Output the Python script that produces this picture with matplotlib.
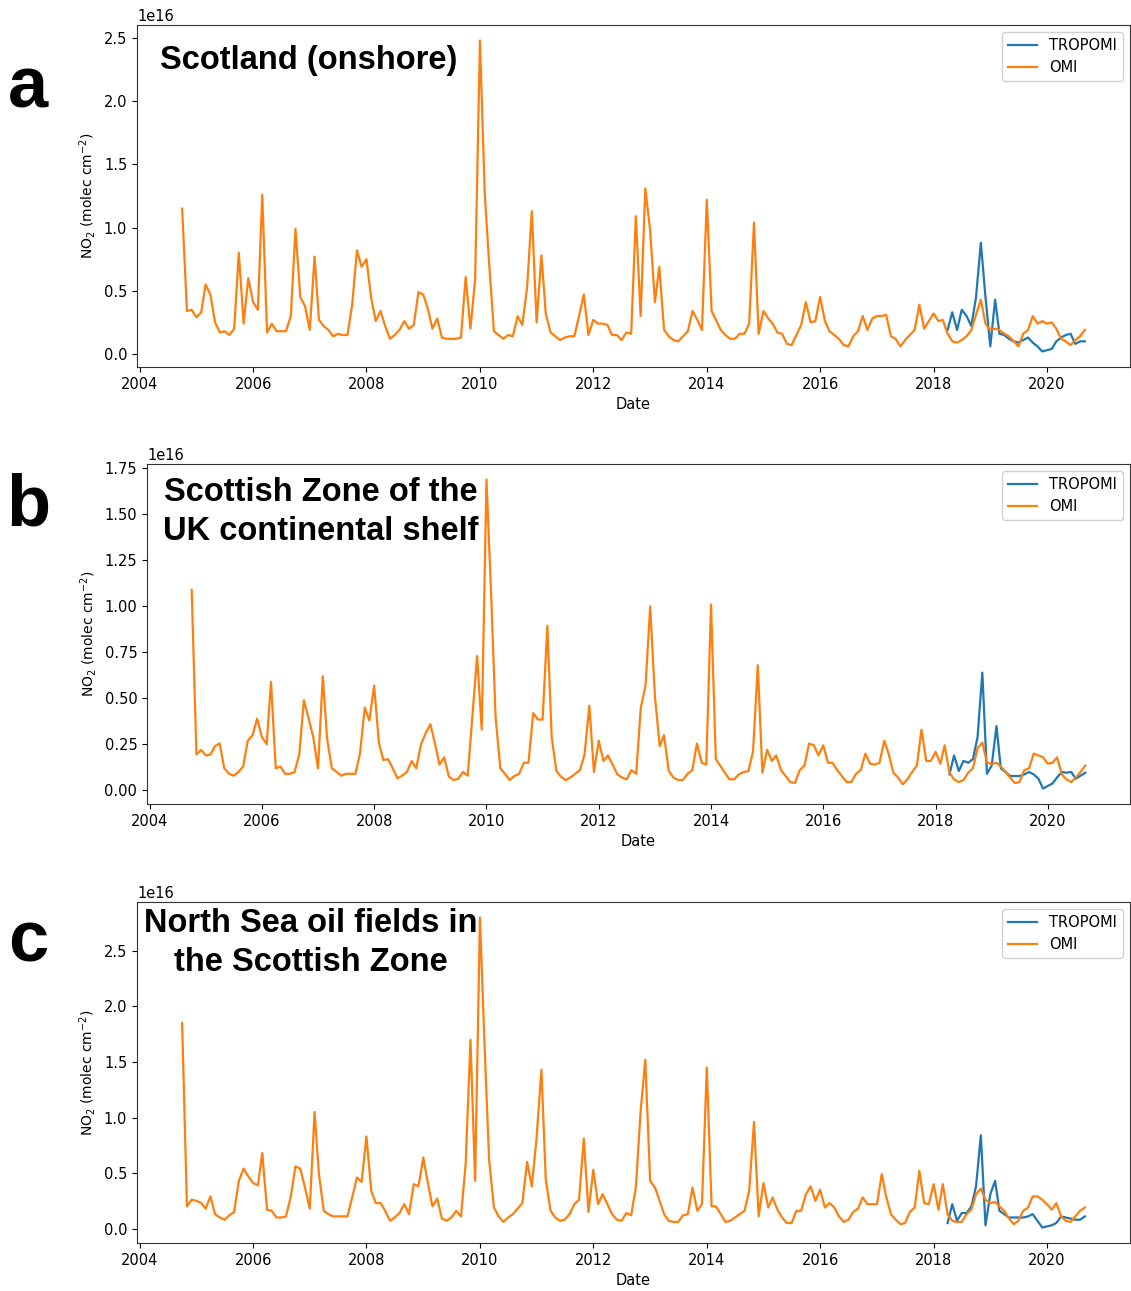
import numpy as np
import pandas as pd
import matplotlib
matplotlib.use('Agg')
import matplotlib.pyplot as plt

plt.rcParams['font.family'] = ['DejaVu Sans']

# monthly means, Oct 2004 - Sep 2020, in units of 1e16 molec cm-2
dates = pd.date_range('2004-10-01', periods=192, freq='MS')
tropomi_dates = pd.date_range('2018-04-01', periods=30, freq='MS')

omi_a = [1.15, 0.34, 0.35, 0.29, 0.33, 0.55, 0.47, 0.25, 0.17, 0.18, 0.15, 0.20,
         0.80, 0.24, 0.60, 0.41, 0.35, 1.26, 0.17, 0.24, 0.18, 0.18, 0.18, 0.30,
         0.99, 0.45, 0.38, 0.19, 0.77, 0.27, 0.22, 0.19, 0.14, 0.16, 0.15, 0.15,
         0.39, 0.82, 0.69, 0.75, 0.44, 0.26, 0.34, 0.22, 0.12, 0.15, 0.19, 0.26,
         0.20, 0.23, 0.49, 0.47, 0.35, 0.20, 0.28, 0.13, 0.12, 0.12, 0.12, 0.13,
         0.61, 0.20, 0.59, 2.48, 1.27, 0.72, 0.18, 0.15, 0.12, 0.15, 0.14, 0.30,
         0.23, 0.53, 1.13, 0.25, 0.78, 0.32, 0.17, 0.14, 0.11, 0.13, 0.14, 0.14,
         0.30, 0.47, 0.15, 0.27, 0.24, 0.24, 0.23, 0.15, 0.15, 0.11, 0.17, 0.16,
         1.09, 0.30, 1.31, 0.98, 0.41, 0.69, 0.19, 0.14, 0.11, 0.10, 0.14, 0.18,
         0.34, 0.27, 0.19, 1.22, 0.34, 0.27, 0.19, 0.15, 0.12, 0.12, 0.16, 0.16,
         0.24, 1.04, 0.16, 0.34, 0.28, 0.24, 0.17, 0.16, 0.08, 0.07, 0.15, 0.23,
         0.41, 0.25, 0.26, 0.45, 0.26, 0.18, 0.15, 0.12, 0.07, 0.06, 0.14, 0.18,
         0.30, 0.19, 0.28, 0.30, 0.30, 0.31, 0.14, 0.12, 0.06, 0.11, 0.15, 0.19,
         0.39, 0.20, 0.26, 0.32, 0.26, 0.27, 0.16, 0.10, 0.09, 0.11, 0.14, 0.19,
         0.31, 0.43, 0.24, 0.19, 0.20, 0.19, 0.16, 0.14, 0.10, 0.06, 0.16, 0.19,
         0.30, 0.24, 0.26, 0.24, 0.25, 0.20, 0.12, 0.10, 0.07, 0.11, 0.14, 0.19]
tropomi_a = [0.19, 0.33, 0.19, 0.35, 0.30, 0.22, 0.45, 0.88, 0.45, 0.06, 0.43, 0.16,
             0.15, 0.12, 0.10, 0.09, 0.11, 0.13, 0.09, 0.06, 0.02, 0.03, 0.04, 0.10,
             0.13, 0.15, 0.16, 0.08, 0.10, 0.10]

omi_b = [1.09, 0.195, 0.22, 0.19, 0.195, 0.24, 0.255, 0.12, 0.09, 0.08, 0.10, 0.13,
         0.27, 0.30, 0.39, 0.29, 0.25, 0.59, 0.12, 0.13, 0.09, 0.09, 0.10, 0.195,
         0.49, 0.39, 0.29, 0.12, 0.62, 0.28, 0.12, 0.10, 0.08, 0.09, 0.09, 0.09,
         0.20, 0.45, 0.38, 0.57, 0.26, 0.165, 0.17, 0.12, 0.065, 0.08, 0.10, 0.16,
         0.12, 0.25, 0.31, 0.36, 0.25, 0.14, 0.18, 0.075, 0.056, 0.063, 0.10, 0.08,
         0.40, 0.73, 0.33, 1.69, 1.05, 0.40, 0.12, 0.09, 0.056, 0.078, 0.09, 0.15,
         0.15, 0.42, 0.385, 0.385, 0.895, 0.29, 0.105, 0.074, 0.056, 0.07, 0.09, 0.11,
         0.195, 0.46, 0.10, 0.27, 0.16, 0.19, 0.14, 0.087, 0.07, 0.06, 0.11, 0.09,
         0.45, 0.57, 1.00, 0.51, 0.24, 0.30, 0.105, 0.07, 0.056, 0.056, 0.09, 0.11,
         0.255, 0.15, 0.14, 1.01, 0.17, 0.135, 0.096, 0.06, 0.06, 0.087, 0.10, 0.105,
         0.21, 0.68, 0.096, 0.22, 0.16, 0.19, 0.11, 0.078, 0.045, 0.04, 0.11, 0.135,
         0.255, 0.245, 0.19, 0.245, 0.15, 0.15, 0.11, 0.078, 0.045, 0.045, 0.09, 0.11,
         0.20, 0.145, 0.14, 0.15, 0.27, 0.20, 0.096, 0.07, 0.033, 0.06, 0.10, 0.135,
         0.33, 0.16, 0.16, 0.21, 0.145, 0.245, 0.096, 0.06, 0.045, 0.056, 0.096, 0.12,
         0.23, 0.26, 0.15, 0.145, 0.15, 0.13, 0.10, 0.07, 0.04, 0.045, 0.11, 0.12,
         0.20, 0.19, 0.18, 0.145, 0.15, 0.18, 0.087, 0.06, 0.045, 0.07, 0.10, 0.135]
tropomi_b = [0.087, 0.19, 0.105, 0.16, 0.15, 0.17, 0.29, 0.64, 0.09, 0.135, 0.35, 0.12,
             0.10, 0.078, 0.078, 0.078, 0.087, 0.10, 0.087, 0.063, 0.01, 0.024, 0.038, 0.07,
             0.10, 0.096, 0.10, 0.063, 0.08, 0.096]

omi_c = [1.85, 0.20, 0.26, 0.25, 0.23, 0.18, 0.29, 0.13, 0.10, 0.08, 0.12, 0.15,
         0.43, 0.54, 0.47, 0.41, 0.39, 0.68, 0.17, 0.16, 0.10, 0.10, 0.11, 0.29,
         0.56, 0.54, 0.37, 0.18, 1.05, 0.49, 0.16, 0.13, 0.11, 0.11, 0.11, 0.11,
         0.28, 0.46, 0.42, 0.83, 0.34, 0.23, 0.23, 0.16, 0.07, 0.10, 0.14, 0.22,
         0.13, 0.40, 0.38, 0.64, 0.40, 0.20, 0.27, 0.09, 0.07, 0.10, 0.16, 0.11,
         0.58, 1.70, 0.43, 2.80, 1.60, 0.62, 0.19, 0.11, 0.06, 0.10, 0.13, 0.18,
         0.23, 0.60, 0.38, 0.82, 1.43, 0.44, 0.16, 0.10, 0.07, 0.08, 0.13, 0.22,
         0.26, 0.81, 0.15, 0.53, 0.22, 0.31, 0.22, 0.13, 0.08, 0.07, 0.14, 0.12,
         0.37, 1.06, 1.52, 0.43, 0.37, 0.26, 0.13, 0.07, 0.06, 0.06, 0.12, 0.13,
         0.37, 0.16, 0.22, 1.45, 0.20, 0.20, 0.13, 0.06, 0.07, 0.10, 0.13, 0.16,
         0.34, 0.96, 0.11, 0.41, 0.19, 0.28, 0.17, 0.10, 0.05, 0.05, 0.16, 0.16,
         0.31, 0.38, 0.25, 0.35, 0.19, 0.23, 0.19, 0.11, 0.06, 0.08, 0.15, 0.18,
         0.28, 0.22, 0.22, 0.22, 0.49, 0.29, 0.13, 0.08, 0.04, 0.05, 0.15, 0.19,
         0.52, 0.23, 0.22, 0.40, 0.17, 0.40, 0.13, 0.07, 0.06, 0.06, 0.13, 0.17,
         0.31, 0.36, 0.26, 0.23, 0.24, 0.20, 0.16, 0.09, 0.04, 0.07, 0.16, 0.19,
         0.29, 0.29, 0.26, 0.22, 0.17, 0.23, 0.11, 0.07, 0.06, 0.11, 0.16, 0.19]
tropomi_c = [0.05, 0.22, 0.07, 0.14, 0.14, 0.20, 0.38, 0.84, 0.03, 0.31, 0.43, 0.16,
             0.13, 0.10, 0.10, 0.10, 0.10, 0.11, 0.13, 0.07, 0.01, 0.02, 0.03, 0.05,
             0.11, 0.10, 0.09, 0.08, 0.08, 0.11]

panels = [
    ('a', 'Scotland (onshore)', omi_a, tropomi_a),
    ('b', 'Scottish Zone of the\nUK continental shelf', omi_b, tropomi_b),
    ('c', 'North Sea oil fields in\nthe Scottish Zone', omi_c, tropomi_c),
]

W, H = 1131, 1291
fig = plt.figure(figsize=(W / 100, H / 100), dpi=100)

# axes boxes in pixels: left, top, right, bottom
boxes = [(137, 25, 1130, 367), (147, 464, 1130, 804), (137, 902, 1130, 1243)]
title_pos = [(160, 60, 'left'), (163, 512, 'left'), (311, 943, 'center')]
letter_y = [88, 507, 942]

for (letter, title, omi, trop), box, tpos, ly in zip(panels, boxes, title_pos, letter_y):
    l, t, r, b = box
    ax = fig.add_axes([l / W, 1 - b / H, (r - l) / W, (b - t) / H])
    ax.plot(tropomi_dates, np.array(trop) * 1e16, color='tab:blue', lw=1.6, label='TROPOMI')
    ax.plot(dates, np.array(omi) * 1e16, color='tab:orange', lw=1.6, label='OMI')
    ax.set_xlabel('Date', fontsize=10.5)
    ax.set_ylabel('NO$_2$ (molec cm$^{-2}$)', fontsize=10)
    ax.tick_params(labelsize=10.5)
    ax.yaxis.get_offset_text().set_fontsize(10.5)
    for s in ax.spines.values():
        s.set_color('#333333')
    ax.legend(loc='upper right', fontsize=10.5, framealpha=0.9)
    ax.text(tpos[0] / W, 1 - tpos[1] / H, title, transform=fig.transFigure,
            ha=tpos[2], va='center', multialignment='center', linespacing=1.3,
            fontsize=23.5, fontweight='bold', family='Liberation Sans')
    fig.text(28 / W, 1 - ly / H, letter, ha='center', va='center',
             fontsize=52, fontweight='bold', family='Liberation Sans')

fig.savefig('out.png', dpi=100)
